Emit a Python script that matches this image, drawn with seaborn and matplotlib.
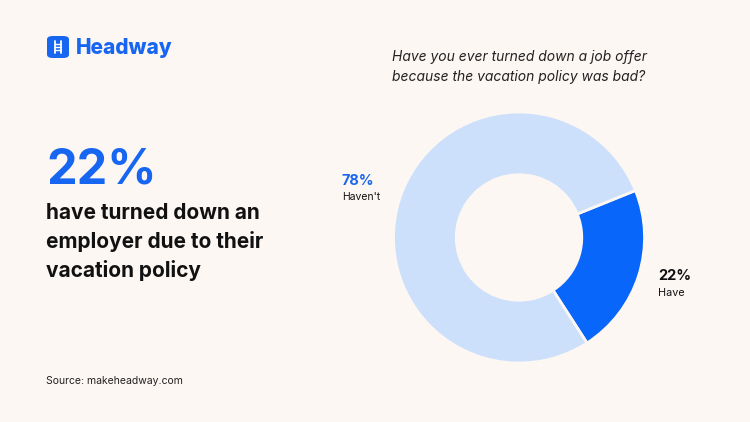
import matplotlib
matplotlib.use("Agg")
import matplotlib.pyplot as plt
import seaborn as sns
from matplotlib.patches import FancyBboxPatch

# data
labels = ["Have", "Haven't"]
values = [22, 78]
colors = ["#0866FA", "#CDE0FB"]
pct_colors = ["#111111", "#1A66F0"]

headline = "22%"
headline_text = "have turned down an\nemployer due to their\nvacation policy"
question = "Have you ever turned down a job offer\nbecause the vacation policy was bad?"
source = "Source: makeheadway.com"

bg = "#FDF7F4"
blue = "#1766F2"

sns.set_theme(style="white")
plt.rcParams["font.family"] = ["Inter", "DejaVu Sans"]

fig = plt.figure(figsize=(7.5, 4.22), dpi=100)
fig.patch.set_facecolor(bg)

# donut
ax = fig.add_axes([0.5247, 0.1398, 0.3347, 0.5948])
ax.set_facecolor(bg)
ax.pie(values, colors=colors, startangle=22, counterclock=False, radius=1,
       wedgeprops=dict(width=0.5, edgecolor=bg, linewidth=2))
ax.set_xlim(-1, 1)
ax.set_ylim(-1, 1)
ax.set_aspect("equal")
ax.axis("off")

# wedge labels
fig.text(658 / 750, 1 - 276 / 422, f"{values[0]}%", fontsize=10.5, fontweight="bold",
         color=pct_colors[0], ha="left", va="center")
fig.text(658 / 750, 1 - 293 / 422, labels[0], fontsize=7.8, color="#111111",
         ha="left", va="center")
fig.text(342 / 750, 1 - 181 / 422, f"{values[1]}%", fontsize=10.5, fontweight="bold",
         color=pct_colors[1], ha="left", va="center")
fig.text(342 / 750, 1 - 197 / 422, labels[1], fontsize=7.5, color="#111111",
         ha="left", va="center")

# question
fig.text(519 / 750, 1 - 67 / 422, question, fontsize=10, style="italic",
         color="#222222", ha="center", va="center", linespacing=1.5)

# left side
fig.text(46 / 750, 1 - 170 / 422, headline, fontsize=35, fontweight="bold",
         color=blue, ha="left", va="center")
fig.text(46 / 750, 1 - 242 / 422, headline_text, fontsize=15, fontweight="bold",
         color="#111111", ha="left", va="center", linespacing=1.45)
fig.text(46 / 750, 1 - 381 / 422, source, fontsize=7.5, color="#222222",
         ha="left", va="center")

# logo
logo = FancyBboxPatch((47 / 750, 1 - 58 / 422), 22 / 750, 22 / 422,
                      boxstyle="round,pad=0,rounding_size=0.008",
                      transform=fig.transFigure, facecolor=blue, edgecolor="none")
fig.patches.append(logo)
for xx in (55, 61):
    fig.lines.append(plt.Line2D([xx / 750, xx / 750], [1 - 41 / 422, 1 - 53 / 422],
                                transform=fig.transFigure, color="white", lw=1.3))
for yy in (44, 47, 50):
    fig.lines.append(plt.Line2D([55 / 750, 61 / 750], [1 - yy / 422, 1 - yy / 422],
                                transform=fig.transFigure, color="white", lw=1))
fig.text(76 / 750, 1 - 48 / 422, "Headway", fontsize=15, fontweight="heavy",
         color=blue, ha="left", va="center")

fig.savefig("out.png", dpi=100, facecolor=bg)
